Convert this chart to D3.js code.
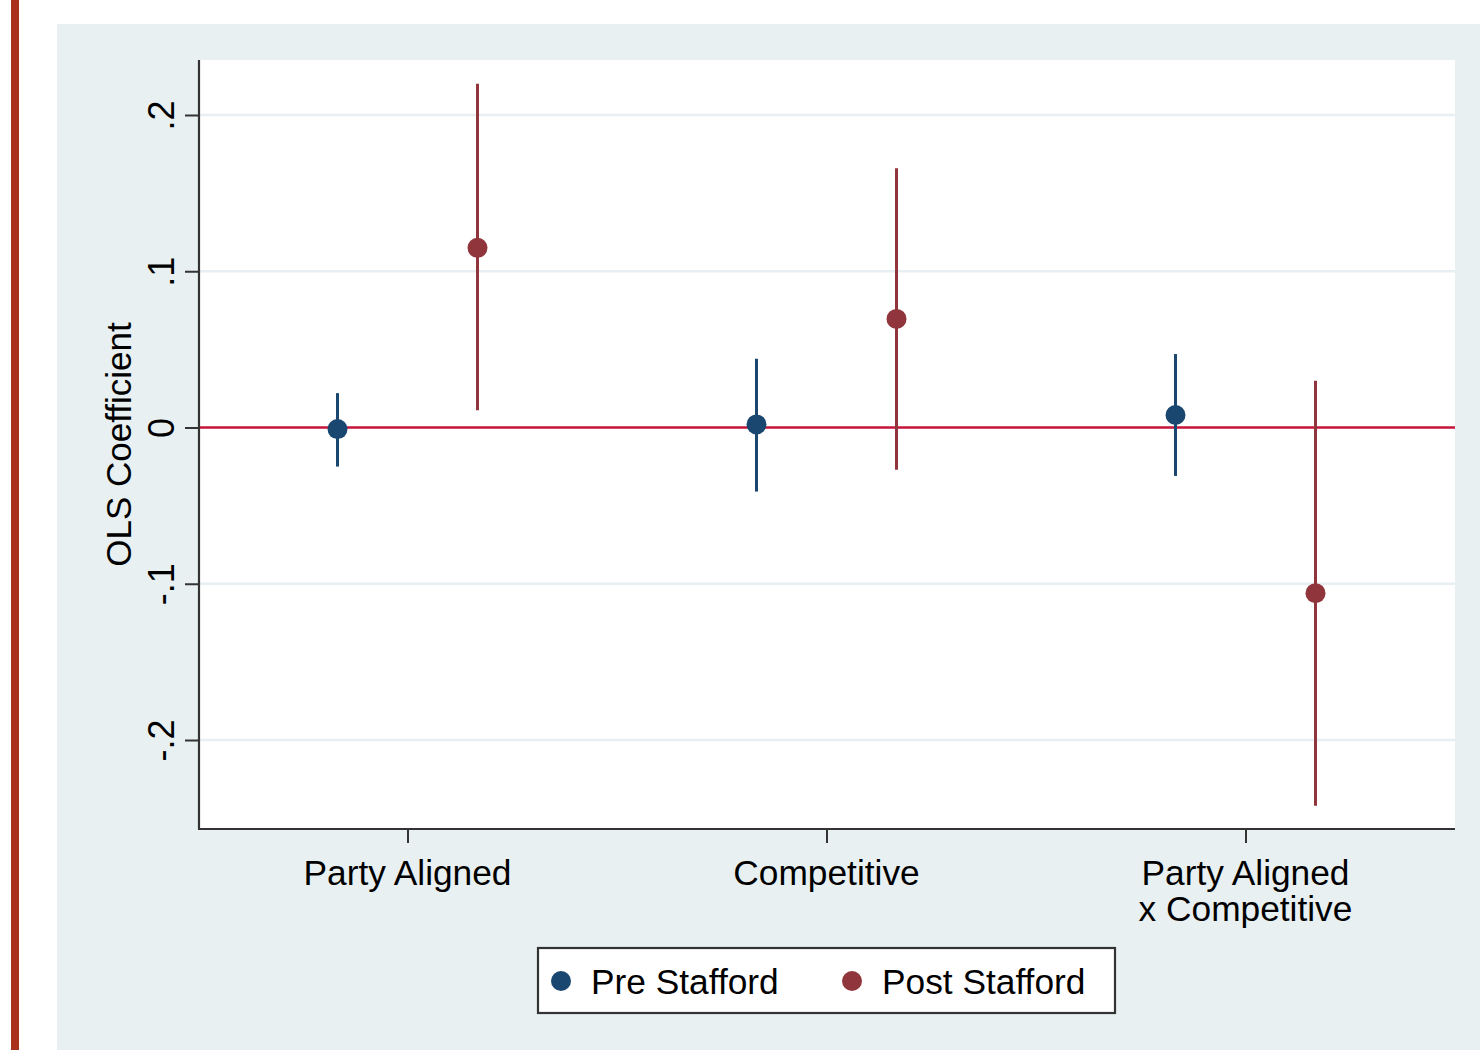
<!DOCTYPE html>
<html>
<head>
<meta charset="utf-8">
<script src="https://cdn.jsdelivr.net/npm/d3@7"></script>
<style>
  html, body { margin: 0; padding: 0; background: #ffffff; }
  svg { display: block; }
  text { font-family: "Liberation Sans", Arial, sans-serif; fill: #000; }
</style>
</head>
<body>
<svg id="chart" width="1480" height="1050"></svg>
<script>
// Coefficient estimates with 95% confidence intervals
const categories = [["Party Aligned"], ["Competitive"], ["Party Aligned", "x Competitive"]];
const seriesNames = ["Pre Stafford", "Post Stafford"];
const preEst  = [-0.001, 0.002, 0.008];
const preLo   = [-0.025, -0.041, -0.031];
const preHi   = [0.022, 0.044, 0.047];
const postEst = [0.115, 0.0695, -0.106];
const postLo  = [0.011, -0.027, -0.242];
const postHi  = [0.220, 0.166, 0.030];
const yTicks  = [-0.2, -0.1, 0, 0.1, 0.2];
const yTickLabels = ["-.2", "-.1", "0", ".1", ".2"];

const colors = ["#1a476f", "#90353b"];
const series = [
  { est: preEst, lo: preLo, hi: preHi },
  { est: postEst, lo: postLo, hi: postHi }
];

const svg = d3.select("#chart");
const W = 1480, H = 1050;

// page accent bar and graph region
svg.append("rect").attr("x", 11).attr("y", 0).attr("width", 8).attr("height", H).attr("fill", "#a8321a");
svg.append("rect").attr("x", 57).attr("y", 24).attr("width", W - 57).attr("height", H - 24).attr("fill", "#e8f0f2");

const plot = { left: 199, right: 1455, top: 60, bottom: 829 };
svg.append("rect").attr("x", plot.left).attr("y", plot.top)
  .attr("width", plot.right - plot.left).attr("height", plot.bottom - plot.top).attr("fill", "#ffffff");

const y = d3.scaleLinear().domain([-0.2, 0.2]).range([740, 115]);
const x = d3.scaleBand().domain(d3.range(categories.length)).range([plot.left, plot.right + 1]).paddingOuter(0).paddingInner(0);
// band centres give the category tick positions
const xc = i => x(i) + x.bandwidth() / 2 - 1;
const offset = 70;

// gridlines
svg.append("g").selectAll("line").data(yTicks).join("line")
  .attr("x1", plot.left).attr("x2", plot.right)
  .attr("y1", d => y(d)).attr("y2", d => y(d))
  .attr("stroke", "#e8eff2").attr("stroke-width", 2.5);

// zero reference line
svg.append("line").attr("x1", plot.left).attr("x2", plot.right)
  .attr("y1", y(0)).attr("y2", y(0))
  .attr("stroke", "#c8163a").attr("stroke-width", 2.5);

// y axis
const yAxis = d3.axisLeft(y).tickValues(yTicks).tickSize(14)
  .tickFormat((d, i) => yTickLabels[i]);
const gy = svg.append("g").attr("transform", `translate(${plot.left},0)`).call(yAxis);
gy.select(".domain").attr("stroke", "#333").attr("stroke-width", 2.2)
  .attr("d", `M0,${plot.top}V${plot.bottom}`);
gy.selectAll(".tick line").attr("stroke", "#333").attr("stroke-width", 2);
gy.selectAll(".tick text")
  .attr("font-size", 36).attr("x", 0).attr("dy", 0)
  .attr("text-anchor", "middle")
  .attr("transform", "translate(-25,0) rotate(-90)")
  .attr("y", 0).attr("fill", "#000");

// x axis
const xAxis = d3.axisBottom(d3.scalePoint().domain(d3.range(categories.length)).range([xc(0), xc(2)]))
  .tickSize(14).tickFormat("");
const gx = svg.append("g").attr("transform", `translate(0,${plot.bottom})`).call(xAxis);
gx.select(".domain").attr("stroke", "#333").attr("stroke-width", 2.2)
  .attr("d", `M${plot.left - 1},0H${plot.right}`);
gx.selectAll(".tick line").attr("stroke", "#333").attr("stroke-width", 2);

// category labels
categories.forEach((lines, i) => {
  const t = svg.append("text").attr("x", xc(i)).attr("y", 885)
    .attr("text-anchor", "middle").attr("font-size", 35.3);
  lines.forEach((ln, j) => {
    t.append("tspan").attr("x", xc(i)).attr("dy", j === 0 ? 0 : 36).text(ln);
  });
});

// y axis title
svg.append("text").attr("transform", `translate(131,${y(0) + 17}) rotate(-90)`)
  .attr("text-anchor", "middle").attr("font-size", 35).text("OLS Coefficient");

// confidence intervals and point estimates
series.forEach((s, k) => {
  const g = svg.append("g");
  const dx = k === 0 ? -offset : offset;
  g.selectAll("line").data(categories.map((c, i) => i)).join("line")
    .attr("x1", i => xc(i) + dx).attr("x2", i => xc(i) + dx)
    .attr("y1", i => y(s.lo[i])).attr("y2", i => y(s.hi[i]))
    .attr("stroke", colors[k]).attr("stroke-width", 3);
  g.selectAll("circle").data(categories.map((c, i) => i)).join("circle")
    .attr("cx", i => xc(i) + dx).attr("cy", i => y(s.est[i]))
    .attr("r", 10).attr("fill", colors[k]);
});

// legend
const lg = svg.append("g");
lg.append("rect").attr("x", 538).attr("y", 948).attr("width", 577).attr("height", 65)
  .attr("fill", "#ffffff").attr("stroke", "#333").attr("stroke-width", 2.2);
const legendX = [561, 852];
seriesNames.forEach((name, k) => {
  lg.append("circle").attr("cx", legendX[k]).attr("cy", 981).attr("r", 10).attr("fill", colors[k]);
  lg.append("text").attr("x", legendX[k] + 30).attr("y", 994).attr("font-size", 35.3).text(name);
});
</script>
</body>
</html>
